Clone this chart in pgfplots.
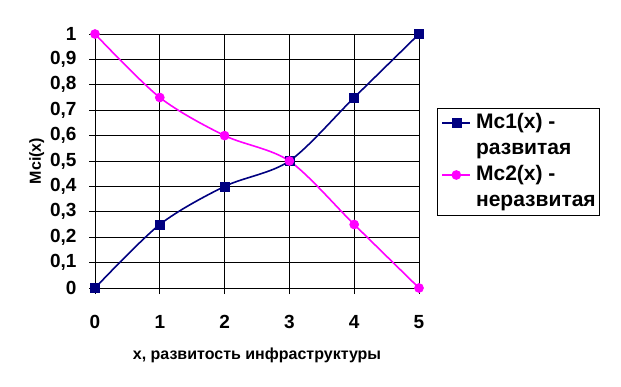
\documentclass[border=0pt]{standalone}
\usepackage{fontspec}
\setmainfont{Liberation Sans}
\usepackage{pgfplots}
\pgfplotsset{compat=1.18}
\definecolor{mcnavy}{RGB}{0,0,128}
\definecolor{mcmag}{RGB}{255,0,255}
\begin{document}
\begin{tikzpicture}
\useasboundingbox (0pt,0pt) rectangle (621pt,386pt);
\begin{axis}[
  at={(95pt,98pt)}, anchor=south west,
  scale only axis, width=324pt, height=254pt,
  xmin=0, xmax=5, ymin=0, ymax=1,
  xtick={0,1,2,3,4,5},
  ytick={0,0.1,0.2,0.3,0.4,0.5,0.6,0.7,0.8,0.9,1},
  axis lines=left,
  axis line style={black, line width=1pt, -},
  grid=major,
  major grid style={black, line width=0.8pt},
  tick align=outside,
  major tick length=6pt,
  tick style={black, line width=0.8pt},
  /pgf/number format/assume math mode=true,
  /pgf/number format/use comma,
  /pgf/number format/fixed,
  /pgf/number format/precision=1,
  ticklabel style={font=\fontsize{19}{21}\selectfont\bfseries},
  xticklabel style={yshift=-18pt},
  yticklabel style={xshift=-9pt},
  xlabel={х, развитость инфраструктуры},
  ylabel={Mci(x)},
  label style={font=\fontsize{16}{18}\selectfont\bfseries},
  xlabel style={yshift=-12pt},
  ylabel style={yshift=-1pt},
  clip=false,
  legend style={at={(1.0556,0.7087)}, anchor=north west, draw=black, line width=1pt,
    font=\fontsize{21}{23}\selectfont\bfseries, inner sep=4pt,
    nodes={inner sep=0pt, text height=16pt, text depth=5pt},
    cells={anchor=west}, row sep=5pt, column sep=5pt},
  legend cell align=left,
  legend image code/.code={\draw[mark repeat=2,mark phase=2,#1] plot coordinates {(0pt,0pt)(14pt,0pt)(28pt,0pt)};},
]
\addplot[mcnavy, line width=1.6pt, smooth, mark=square*, mark size=4.5pt, mark options={solid, line width=0.5pt}]
  coordinates {(0,0) (1,0.25) (2,0.4) (3,0.5) (4,0.75) (5,1)};
\addlegendentry{Mc1(x) -}
\addlegendimage{empty legend}
\addlegendentry{развитая}
\addplot[mcmag, line width=1.6pt, smooth, mark=*, mark size=4pt, mark options={solid}]
  coordinates {(0,1) (1,0.75) (2,0.6) (3,0.5) (4,0.25) (5,0)};
\addlegendentry{Mc2(x) -}
\addlegendimage{empty legend}
\addlegendentry{неразвитая}
\end{axis}
\end{tikzpicture}
\end{document}
